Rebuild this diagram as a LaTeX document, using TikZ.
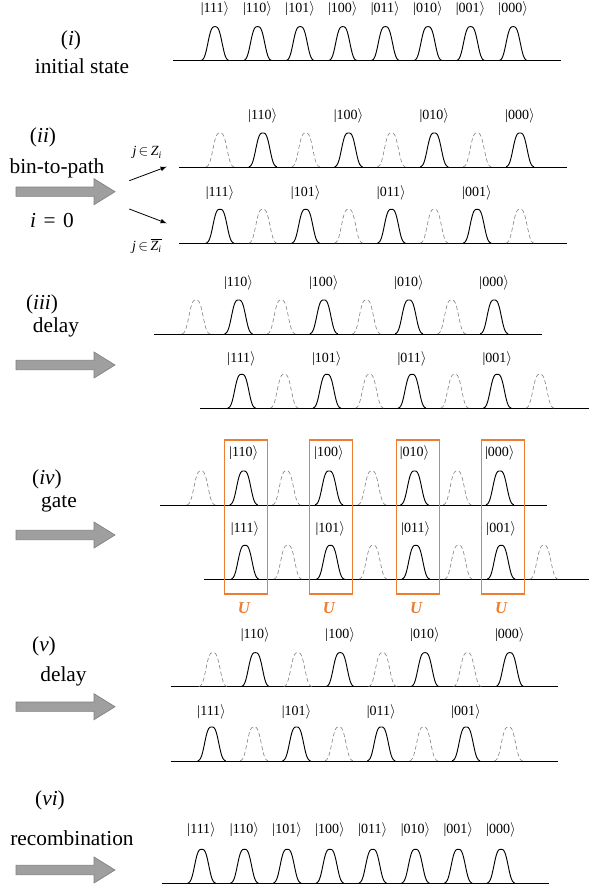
\documentclass[tikz,border=0pt]{standalone}
\usepackage{fontspec}
\setmainfont{Liberation Serif}
\usepackage{tikz}

\definecolor{uorange}{RGB}{237,125,49}

\tikzset{
  pulse/.pic={\draw[pic actions] plot[domain=-14:14,samples=57,smooth] (\x,{-34*exp(-(abs(\x)/8.2)^3)});},
  full/.style={black, line width=0.7pt},
  ghost/.style={gray, densely dashed, line width=0.45pt},
  base/.style={line width=0.7pt},
  ket/.style={font=\fontsize{10.5}{12}\selectfont, inner sep=0pt},
  stage/.style={font=\fontsize{16}{19}\selectfont, inner sep=0pt},
  jlabel/.style={font=\fontsize{10.5}{12}\selectfont, inner sep=0pt},
  bigarrow/.style={fill=gray!75, draw=black!50, line width=0.5pt},
  gatebox/.style={draw=uorange, line width=0.8pt},
  ulabel/.style={font=\fontsize{12.5}{14}\selectfont\bfseries\itshape, text=uorange, inner sep=0pt}
}

% #1 x0, #2 spacing, #3 line y, #4 label y, #5 first full slot (0/1), #6 labels, #7 name
\newcommand{\halfrow}[7]{%
  \foreach \k in {0,...,3}
    \pic[ghost] at ({#1+#2*(2*\k+1-#5)},#3) {pulse};
  \foreach \lbl [count=\k from 0] in {#6}{
    \pic[full] at ({#1+#2*(2*\k+#5)},#3) {pulse};
    \node[ket] (#7-\k) at ({#1+#2*(2*\k+#5)},#4) {|\lbl$\rangle$};
  }
}

\begin{document}
\begin{tikzpicture}[x=0.75pt,y=-0.75pt]
  \useasboundingbox (0,0) rectangle (589,888);

  % stage texts
  \node[stage] (s1) at (71,40) {(\textit{i})};
  \node[stage] (s1t) at (82,66.7) {initial state};
  \node[stage] (s2) at (43,137) {(\textit{ii})};
  \node[stage] (s2t) at (57,168) {bin-to-path};
  \node[stage] (s2i) at (52,221) {\textit{i}\hspace{0.35em}=\hspace{0.35em}0};
  \node[stage] (s3) at (42,304) {(\textit{iii})};
  \node[stage] (s3t) at (56,327) {delay};
  \node[stage] (s4) at (47,479) {(\textit{iv})};
  \node[stage] (s4t) at (59,503.3) {gate};
  \node[stage] (s5) at (44,646.7) {(\textit{v})};
  \node[stage] (s5t) at (63.5,676.7) {delay};
  \node[stage] (s6) at (50,800) {(\textit{vi})};
  \node[stage] (s6t) at (72,838.3) {recombination};

  \foreach \y in {191.7,365,535,706.7,870}
    \draw[bigarrow] (16,\y-4.7) -- (94,\y-4.7) -- (94,\y-13) -- (115,\y)
      -- (94,\y+13) -- (94,\y+4.7) -- (16,\y+4.7) -- cycle;

  % (i) initial state
  \draw[base] (173,60.7) -- (561,60.7);
  \foreach \lbl [count=\k from 0] in {111,110,101,100,011,010,001,000}{
    \pic[full] at ({215+42.6*\k},60.7) {pulse};
    \node[ket] (ki-\k) at ({215+42.6*\k},9) {|\lbl$\rangle$};
  }

  % (ii) bin-to-path
  \node[jlabel] (zin) at (147.3,152.7) {\textit{j}\,$\in$\,\textit{Z}\textsubscript{\textit{i}}};
  \node[jlabel] (zout) at (147,245.7) {\textit{j}\,$\in$\,$\overline{\mbox{\textit{Z}\textsubscript{\textit{i}}}}$};
  \coordinate (up-a) at (129.3,180.7);
  \coordinate (up-b) at (166.7,166.7);
  \coordinate (dn-a) at (129.3,209);
  \coordinate (dn-b) at (166.7,223.3);
  \draw[-latex, line width=0.6pt] (up-a) -- (up-b);
  \draw[-latex, line width=0.6pt] (dn-a) -- (dn-b);
  \draw[base] (179,167) -- (566.7,167);
  \draw[base] (179,243.3) -- (566.7,243.3);
  \halfrow{220}{42.86}{167}{115.7}{1}{110,100,010,000}{kiia}
  \halfrow{220}{42.86}{243.3}{193.3}{0}{111,101,011,001}{kiib}

  % (iii) delay
  \draw[base] (154,334) -- (541.7,334);
  \draw[base] (200,408.3) -- (589,408.3);
  \halfrow{196}{42.6}{334}{282.7}{1}{110,100,010,000}{kiiia}
  \halfrow{241.7}{42.6}{408.3}{359.3}{0}{111,101,011,001}{kiiib}

  % (iv) gate
  \draw[base] (160,505) -- (547.3,505);
  \draw[base] (204,579.3) -- (589,579.3);
  \halfrow{201}{42.7}{505}{452.7}{1}{110,100,010,000}{kiva}
  \halfrow{245}{42.7}{579.3}{529.3}{0}{111,101,011,001}{kivb}
  \foreach \cx [count=\k] in {245.8,330.8,418,503}{
    \draw[gatebox] ({\cx-21.5},440) rectangle ({\cx+21.5},594);
    \node[ulabel] (u-\k) at (\cx-1.8,608.3) {U};
  }

  % (v) delay
  \draw[base] (170.7,686.7) -- (558.3,686.7);
  \draw[base] (170.7,761) -- (558.3,761);
  \halfrow{213}{42.4}{686.7}{635}{1}{110,100,010,000}{kva}
  \halfrow{211.7}{42.4}{761}{711.7}{0}{111,101,011,001}{kvb}

  % (vi) recombination
  \draw[base] (161.7,883.3) -- (549.3,883.3);
  \foreach \lbl [count=\k from 0] in {111,110,101,100,011,010,001,000}{
    \pic[full] at ({201.7+42.76*\k},883.3) {pulse};
    \node[ket] (kvi-\k) at ({201.7+42.76*\k},830) {|\lbl$\rangle$};
  }
\end{tikzpicture}
\end{document}
